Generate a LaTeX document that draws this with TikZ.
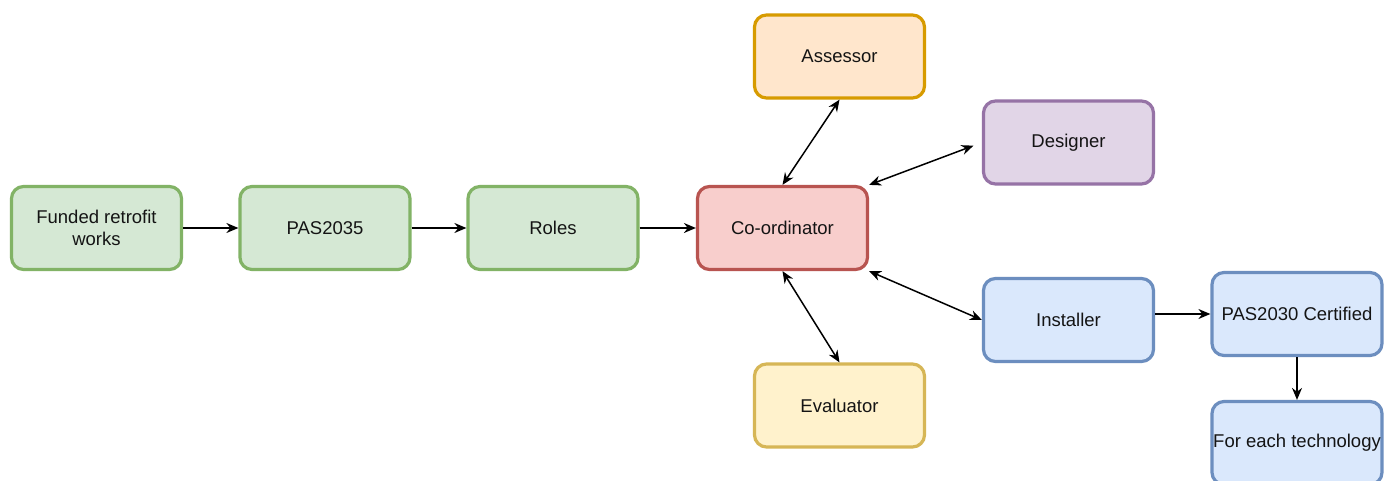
\documentclass[tikz,border=0pt]{standalone}
\usepackage{fontspec}
\setmainfont{Liberation Sans}
\usetikzlibrary{arrows.meta}
\definecolor{gfill}{HTML}{D5E8D4}\definecolor{gline}{HTML}{82B366}
\definecolor{ofill}{HTML}{FFE6CC}\definecolor{oline}{HTML}{D79B00}
\definecolor{pfill}{HTML}{E1D5E7}\definecolor{pline}{HTML}{9673A6}
\definecolor{rfill}{HTML}{F8CECC}\definecolor{rline}{HTML}{B85450}
\definecolor{yfill}{HTML}{FFF2CC}\definecolor{yline}{HTML}{D6B656}
\definecolor{bfill}{HTML}{DAE8FC}\definecolor{bline}{HTML}{6C8EBF}
\definecolor{txt}{HTML}{141414}
\tikzset{
  box/.style={rectangle, rounded corners=12pt, line width=3.2pt, minimum width=170pt, minimum height=83pt,
    inner sep=0pt, align=center, text=txt, font=\fontsize{18.5pt}{22pt}\selectfont},
  gbox/.style={box, draw=gline, fill=gfill},
  obox/.style={box, draw=oline, fill=ofill},
  pbox/.style={box, draw=pline, fill=pfill},
  rbox/.style={box, draw=rline, fill=rfill},
  ybox/.style={box, draw=yline, fill=yfill},
  bbox/.style={box, draw=bline, fill=bfill},
  conn/.style={line width=1.5pt, -{Stealth[length=12pt,width=10pt]}},
  bconn/.style={line width=1.5pt, {Stealth[length=12pt,width=10pt]}-{Stealth[length=12pt,width=10pt]}}
}
\begin{document}
\begin{tikzpicture}
\useasboundingbox (0,0) rectangle (1390pt,-481pt);
\clip (0,0) rectangle (1390pt,-481pt);
\fill[white] (0,0) rectangle (1390pt,-481pt);
\node[gbox] (fund) at (96.5pt,-228pt) {Funded retrofit\\works};
\node[gbox] (pas35) at (325pt,-228pt) {PAS2035};
\node[gbox] (roles) at (553pt,-228pt) {Roles};
\node[rbox] (coord) at (782.5pt,-228pt) {Co-ordinator};
\node[obox] (asr) at (839.5pt,-56.5pt) {Assessor};
\node[pbox] (des) at (1068.5pt,-142.5pt) {Designer};
\node[bbox] (inst) at (1068.5pt,-320pt) {Installer};
\node[ybox] (eval) at (839.5pt,-405.5pt) {Evaluator};
\node[bbox] (pas30) at (1297pt,-314pt) {PAS2030 Certified};
\node[bbox] (tech) at (1297pt,-443pt) {For each technology};
\draw[conn] (fund.east) -- (pas35.west);
\draw[conn] (pas35.east) -- (roles.west);
\draw[conn] (roles.east) -- (coord.west);
\draw[bconn] (coord.north) -- (asr.south);
\draw[bconn, shorten >=9pt] (coord.north east) -- (des.west);
\draw[bconn] (coord.south east) -- (inst.west);
\draw[bconn] (coord.south) -- (eval.north);
\draw[conn] (inst.east |- pas30.west) -- (pas30.west);
\draw[conn] (pas30.south) -- (tech.north);
\end{tikzpicture}
\end{document}
